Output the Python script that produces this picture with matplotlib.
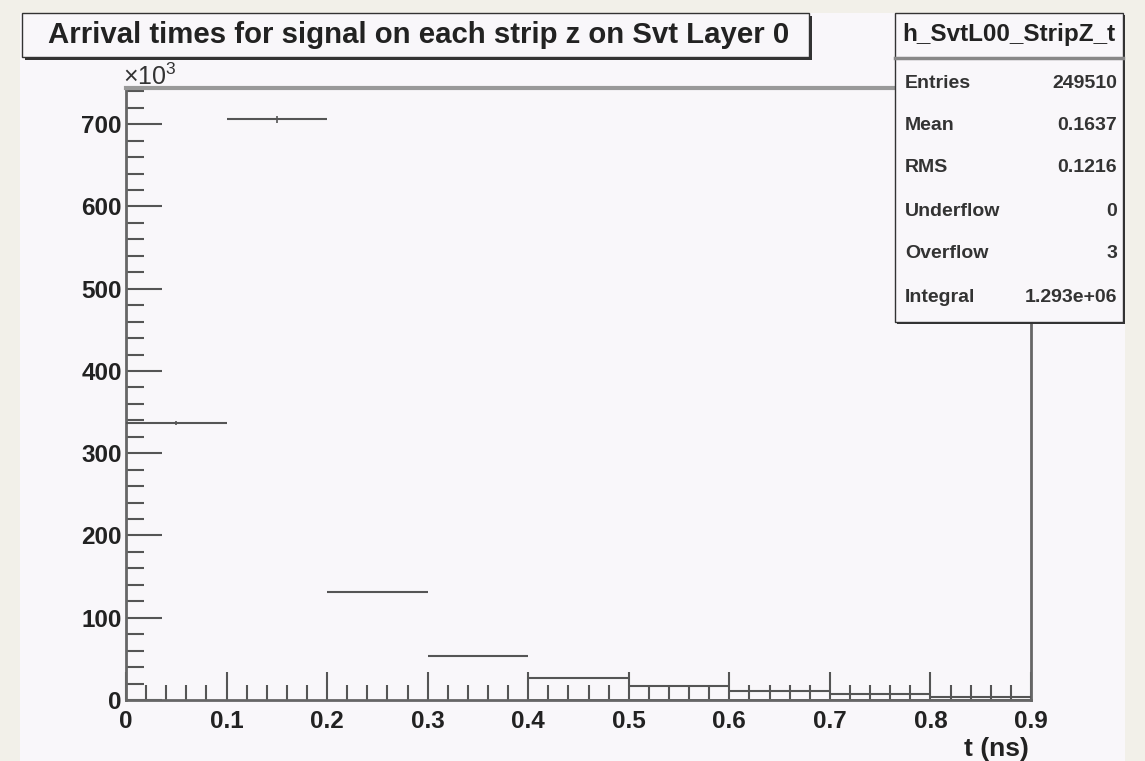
## ROOT-style histogram of SVT strip arrival times
import matplotlib
matplotlib.use("Agg")
from matplotlib import pyplot as plt
from matplotlib.patches import Rectangle
from matplotlib.ticker import MultipleLocator, FuncFormatter
import numpy as np

plt.rcParams['font.family'] = ['Liberation Sans', 'DejaVu Sans']
plt.rcParams['mathtext.fontset'] = 'custom'
plt.rcParams['mathtext.rm'] = 'Liberation Sans'

# histogram contents (bins of 0.1 ns), counts in units of 1e3
bin_edges = [0.0, 0.1, 0.2, 0.3, 0.4, 0.5, 0.6, 0.7, 0.8, 0.9]
counts = [337, 706, 131, 53, 27, 17, 11, 7, 4]
errors = [2.5, 4.0, 1.5, 1.0, 0.8, 0.6, 0.5, 0.4, 0.3]
n_box = 4  # bins from here on are drawn as open boxes

title = "Arrival times for signal on each strip z on Svt Layer 0"
hist_name = "h_SvtL00_StripZ_t"
stat_names = ["Entries", "Mean", "RMS", "Underflow", "Overflow", "Integral"]
stat_values = ["249510", "0.1637", "0.1216", "0", "3", "1.293e+06"]

W, H = 1145, 761
canvas_col = "#f9f7fa"
line_col = "#555555"
text_col = "#222222"

fig = plt.figure(figsize=(W / 100, H / 100), dpi=100, facecolor="#f2f0e9")

def px_rect(x0, y0, x1, y1, **kw):
    # rectangle given in pixel coords, origin top-left
    return Rectangle((x0 / W, 1 - y1 / H), (x1 - x0) / W, (y1 - y0) / H,
                     transform=fig.transFigure, **kw)

fig.patches.append(px_rect(20, 13, 1125, 761, facecolor=canvas_col, edgecolor="none", zorder=-5))

ax = fig.add_axes([126 / W, 1 - 700 / H, (1031 - 126) / W, (700 - 88) / H])
ax.set_zorder(1)
ax.set_facecolor(canvas_col)

edges = np.array(bin_edges)
left, right = edges[:-1], edges[1:]
centers = 0.5 * (left + right)

ax.bar(left[n_box:], counts[n_box:], width=0.1, align="edge", fill=False,
       edgecolor=line_col, linewidth=1.3, zorder=2)
ax.hlines(counts, left, right, color=line_col, linewidth=1.5, zorder=3)
ax.errorbar(centers, counts, yerr=errors, fmt="none", ecolor=line_col,
            elinewidth=1.2, zorder=3)

ax.set_xlim(0, 0.9)
ax.set_ylim(0, 744)

ax.xaxis.set_major_locator(MultipleLocator(0.1))
ax.xaxis.set_minor_locator(MultipleLocator(0.02))
ax.yaxis.set_major_locator(MultipleLocator(100))
ax.yaxis.set_minor_locator(MultipleLocator(20))
ax.xaxis.set_major_formatter(FuncFormatter(lambda v, p: "0" if abs(v) < 1e-9 else f"{v:.1f}"))
ax.yaxis.set_major_formatter(FuncFormatter(lambda v, p: f"{v:.0f}"))

ax.tick_params(which="both", direction="in", color=line_col, width=1.5,
               top=False, right=False)
ax.tick_params(axis="x", which="major", length=20, labelsize=17.5, pad=7)
ax.tick_params(axis="x", which="minor", length=11)
ax.tick_params(axis="y", which="major", length=26, labelsize=17.5, pad=3)
ax.tick_params(axis="y", which="minor", length=13)
for lab in ax.get_xticklabels() + ax.get_yticklabels():
    lab.set_fontweight("bold")
    lab.set_color(text_col)

for s in ["left", "bottom", "right"]:
    ax.spines[s].set_color("#666666")
    ax.spines[s].set_linewidth(2)
ax.spines["top"].set_color("#999999")
ax.spines["top"].set_linewidth(3)

fig.text(1029 / W, 1 - 749 / H, "t (ns)", ha="right", va="center",
         fontsize=19, fontweight="bold", color=text_col)
fig.text(123 / W, 1 - 77 / H, r"$\times$10$^{3}$", ha="left", va="center",
         fontsize=18, color="#333333")

# title box with shadow
fig.patches.append(px_rect(25, 16, 812, 60, facecolor="#333333", edgecolor="none", zorder=5))
fig.patches.append(px_rect(22, 13, 809, 57, facecolor=canvas_col, edgecolor="#333333",
                           linewidth=1, zorder=6))
fig.text(419 / W, 1 - 35 / H, title, ha="center", va="center", fontsize=21.2,
         fontweight="bold", color=text_col, zorder=7)

# stats box
fig.patches.append(px_rect(897, 15, 1125, 324, facecolor="#333333", edgecolor="none", zorder=5))
fig.patches.append(px_rect(895, 13, 1123, 322, facecolor=canvas_col, edgecolor="#333333",
                           linewidth=1, zorder=6))
fig.lines.append(plt.Line2D([895 / W, 1123 / W], [1 - 58 / H] * 2, transform=fig.transFigure,
                            color="#888888", linewidth=2.5, zorder=7))
fig.text(1009 / W, 1 - 35 / H, hist_name, ha="center", va="center", fontsize=17.5,
         fontweight="bold", color=text_col, zorder=7)
row_y = [83, 125, 167, 211, 254, 297]
for name, val, y in zip(stat_names, stat_values, row_y):
    fig.text(905 / W, 1 - y / H, name, ha="left", va="center", fontsize=14,
             fontweight="bold", color="#333333", zorder=7)
    fig.text(1117 / W, 1 - y / H, val, ha="right", va="center", fontsize=14,
             fontweight="bold", color="#333333", zorder=7)

fig.savefig("out.png", dpi=100, facecolor=fig.get_facecolor())
